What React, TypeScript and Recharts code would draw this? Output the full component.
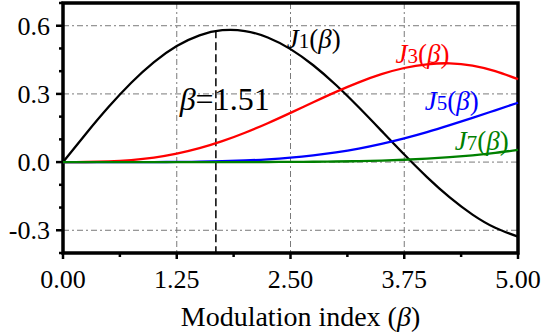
import React from "react";
import {
  LineChart,
  Line,
  XAxis,
  YAxis,
  CartesianGrid,
  ReferenceLine,
  ReferenceArea,
  ReferenceDot
} from "recharts";

// modulation index steps
const beta = [
  0, 0.25, 0.5, 0.75, 1.0, 1.25, 1.5, 1.75, 2.0, 2.25, 2.5,
  2.75, 3.0, 3.25, 3.5, 3.75, 4.0, 4.25, 4.5, 4.75, 5.0
];

const j1 = [
  0, 0.124, 0.2423, 0.3492, 0.4401, 0.5106, 0.5579, 0.5802, 0.5767, 0.5484, 0.4971,
  0.426, 0.3391, 0.2411, 0.1374, 0.0332, -0.066, -0.1555, -0.2311, -0.2892, -0.3276
];

const j3 = [
  0, 0.0003, 0.0026, 0.0087, 0.0196, 0.0369, 0.061, 0.0919, 0.1289, 0.1711, 0.2166,
  0.2634, 0.3091, 0.351, 0.3868, 0.414, 0.4302, 0.4346, 0.4247, 0.4003, 0.3648
];

const j5 = [
  0, 0, 0.00001, 0.00006, 0.00025, 0.0007, 0.0018, 0.0037, 0.007, 0.0121, 0.0195,
  0.0297, 0.043, 0.0597, 0.0804, 0.1046, 0.1321, 0.1627, 0.1947, 0.2279, 0.2611
];

const j7 = [
  0, 0, 0, 0, 0.0000015, 0.000006, 0.00002, 0.00005, 0.00017, 0.0004, 0.0007,
  0.0014, 0.0025, 0.0042, 0.0067, 0.0103, 0.0152, 0.0217, 0.03, 0.0404, 0.0534
];

const xTicks = [0, 0.625, 1.25, 1.875, 2.5, 3.125, 3.75, 4.375, 5];
const xMajor = [0, 1.25, 2.5, 3.75, 5];
const xLabels = ["0.00", "1.25", "2.50", "3.75", "5.00"];

const yTicks = [-0.4, -0.3, -0.2, -0.1, 0, 0.1, 0.2, 0.3, 0.4, 0.5, 0.6, 0.7];
const yMajor = [-0.3, 0, 0.3, 0.6];
const yLabels = ["-0.3", "0.0", "0.3", "0.6"];

const data = beta.map((b, i) => ({ b, j1: j1[i], j3: j3[i], j5: j5[i], j7: j7[i] }));

const serif = { fontFamily: "Liberation Serif, DejaVu Serif, serif" };

const XTick = (props: any) => {
  const { x, y, payload } = props;
  const idx = xMajor.indexOf(payload.value);
  const major = idx >= 0;
  return (
    <g>
      <line x1={x} x2={x} y1={y} y2={y + (major ? 6 : 4)} stroke="#000" strokeWidth={2.5} />
      {major && (
        <text x={x} y={y + 35} textAnchor="middle" fontSize={26} style={serif} fill="#000">
          {xLabels[idx]}
        </text>
      )}
    </g>
  );
};

const YTick = (props: any) => {
  const { x, y, payload } = props;
  const idx = yMajor.indexOf(payload.value);
  const major = idx >= 0;
  return (
    <g>
      <line x1={x} x2={x - (major ? 7 : 4)} y1={y} y2={y} stroke="#000" strokeWidth={2.5} />
      {major && (
        <text x={x - 13} y={y + 9} textAnchor="end" fontSize={26} style={serif} fill="#000">
          {yLabels[idx]}
        </text>
      )}
    </g>
  );
};

// J_n(β) label drawn at a data position
const besselLabel = (n: string, color: string) => (props: any) => {
  const { viewBox } = props;
  return (
    <text x={viewBox.x} y={viewBox.y} fontSize={27} style={serif} fill={color}>
      <tspan fontStyle="italic">J</tspan>
      <tspan fontSize={21}>{n}</tspan>
      <tspan>(</tspan>
      <tspan fontStyle="italic">β</tspan>
      <tspan>)</tspan>
    </text>
  );
};

const betaLabel = (props: any) => {
  const { viewBox } = props;
  return (
    <text x={viewBox.x} y={viewBox.y} fontSize={32} style={serif} fill="#000">
      <tspan fontStyle="italic">β</tspan>
      <tspan>=1.51</tspan>
    </text>
  );
};

const axisTitle = (props: any) => {
  const { viewBox } = props;
  return (
    <text
      x={viewBox.x + viewBox.width / 2 + 10}
      y={viewBox.y + 73}
      textAnchor="middle"
      fontSize={28}
      style={serif}
      fill="#000"
    >
      Modulation index (<tspan fontStyle="italic">β</tspan>)
    </text>
  );
};

export default function App() {
  return (
    <div style={{ position: "absolute", left: 0, top: 0, background: "#fff", ...serif }}>
      <LineChart
        width={554}
        height={335}
        data={data}
        margin={{ top: 3, right: 36, left: 0, bottom: 0 }}
      >
        <CartesianGrid
          stroke="#7a7a7a"
          strokeDasharray="6 3 2 3"
          horizontalValues={yMajor}
          verticalValues={[1.25, 2.5, 3.75]}
        />
        <XAxis
          dataKey="b"
          type="number"
          domain={[0, 5]}
          ticks={xTicks}
          interval={0}
          tickSize={0}
          tickMargin={0}
          tick={<XTick />}
          axisLine={false}
          height={82}
          label={{ content: axisTitle }}
        />
        <YAxis
          type="number"
          domain={[-0.4, 0.7]}
          ticks={yTicks}
          interval={0}
          tickSize={0}
          tickMargin={0}
          tick={<YTick />}
          axisLine={false}
          width={63}
        />
        <ReferenceLine
          segment={[{ x: 1.68, y: 0.58 }, { x: 1.68, y: -0.4 }]}
          stroke="#000"
          strokeWidth={1.5}
          strokeDasharray="8 4"
        />
        <Line type="natural" dataKey="j1" stroke="#000000" strokeWidth={2.3} dot={false} isAnimationActive={false} />
        <Line type="natural" dataKey="j3" stroke="#ff0000" strokeWidth={2.3} dot={false} isAnimationActive={false} />
        <Line type="natural" dataKey="j5" stroke="#0000ff" strokeWidth={2.3} dot={false} isAnimationActive={false} />
        <Line type="natural" dataKey="j7" stroke="#008000" strokeWidth={2.3} dot={false} isAnimationActive={false} />
        <ReferenceDot x={2.46} y={0.504} r={0} fill="none" stroke="none" label={{ content: besselLabel("1", "#000") }} />
        <ReferenceDot x={3.655} y={0.438} r={0} fill="none" stroke="none" label={{ content: besselLabel("3", "#ff0000") }} />
        <ReferenceDot x={3.975} y={0.231} r={0} fill="none" stroke="none" label={{ content: besselLabel("5", "#0000ff") }} />
        <ReferenceDot x={4.305} y={0.054} r={0} fill="none" stroke="none" label={{ content: besselLabel("7", "#008000") }} />
        <ReferenceDot x={1.282} y={0.231} r={0} fill="none" stroke="none" label={{ content: betaLabel }} />
        <ReferenceArea x1={0} x2={5} y1={-0.4} y2={0.7} fill="none" stroke="#000" strokeWidth={3.5} />
      </LineChart>
    </div>
  );
}
